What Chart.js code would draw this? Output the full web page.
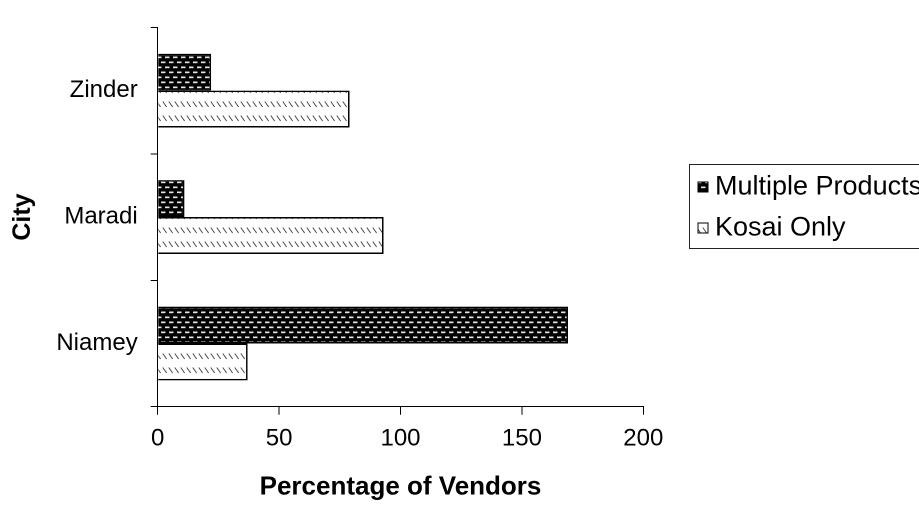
<!DOCTYPE html>
<html>
<head>
<meta charset="utf-8">
<script src="https://cdn.jsdelivr.net/npm/chart.js@4"></script>
<style>
  html, body { margin: 0; padding: 0; background: #fff; overflow: hidden; width: 919px; height: 506px; }
  #frame { position: absolute; left: 0; top: 0; width: 919px; height: 506px; }
</style>
</head>
<body>
<div id="frame"><canvas id="chart"></canvas></div>
<script>
// Share of vendors by city
const cities = ['Zinder', 'Maradi', 'Niamey'];
const multipleProducts = [22, 11, 169];
const kosaiOnly = [79, 93, 37];
const seriesNames = ['Multiple Products', 'Kosai Only'];
const percentTicks = [0, 50, 100, 150, 200];

const FONT = '"Liberation Sans", Arial, sans-serif';
const RES = 2; // tiles are drawn at 2x and scaled back down

function makePattern(w, h, paint) {
  const c = document.createElement('canvas');
  c.width = Math.round(w * RES);
  c.height = Math.round(h * RES);
  const g = c.getContext('2d');
  g.scale(RES, RES);
  paint(g);
  const p = c.getContext('2d').createPattern(c, 'repeat');
  p.setTransform(new DOMMatrix().scale(1 / RES));
  return p;
}

// dark fill with offset rows of light dashes
const brickPattern = makePattern(8, 10, g => {
  g.fillStyle = '#000';
  g.fillRect(0, 0, 8, 10);
  g.fillStyle = '#e4e4e4';
  g.fillRect(1, 1.5, 4.5, 1.7);
  g.fillRect(5, 6.5, 4.5, 1.7);
  g.fillRect(-3, 6.5, 4.5, 1.7);
});

// white fill with rows of short backslash strokes
const hatchPattern = makePattern(6, 14, g => {
  g.fillStyle = '#fff';
  g.fillRect(0, 0, 6, 14);
  g.strokeStyle = '#4a4a4a';
  g.lineWidth = 1;
  g.beginPath();
  g.moveTo(0.8, 3.5);
  g.lineTo(4.6, 9);
  g.stroke();
});

const boxedLegend = {
  id: 'boxedLegend',
  afterDraw(chart) {
    const ctx = chart.ctx;
    const x0 = 689.5, y0 = 164.5, h = 84;
    ctx.save();
    ctx.strokeStyle = '#222';
    ctx.lineWidth = 1;
    ctx.strokeRect(x0, y0, 260, h);
    const rows = [187, 228];
    chart.data.datasets.forEach((ds, i) => {
      const y = rows[i];
      ctx.fillStyle = ds.backgroundColor;
      ctx.fillRect(698, y - 5, 10, 10);
      ctx.strokeStyle = '#000';
      ctx.lineWidth = 1;
      ctx.strokeRect(698, y - 5, 10, 10);
      ctx.fillStyle = '#000';
      ctx.font = '27px ' + FONT;
      ctx.textBaseline = 'middle';
      ctx.textAlign = 'left';
      ctx.fillText(ds.label, 715, y);
    });
    ctx.restore();
  }
};

new Chart(document.getElementById('chart'), {
  type: 'bar',
  data: {
    labels: cities,
    datasets: [
      { label: seriesNames[0], data: multipleProducts, backgroundColor: brickPattern,
        borderColor: '#000', borderWidth: 1.5 },
      { label: seriesNames[1], data: kosaiOnly, backgroundColor: hatchPattern,
        borderColor: '#000', borderWidth: 1.5 }
    ]
  },
  options: {
    indexAxis: 'y',
    responsive: true,
    maintainAspectRatio: false,
    animation: false,
    devicePixelRatio: 2,
    categoryPercentage: 0.584,
    barPercentage: 1,
    layout: { padding: { left: 0, top: 8, right: 275.7, bottom: 0 } },
    plugins: { legend: { display: false }, tooltip: { enabled: false } },
    scales: {
      x: {
        type: 'linear',
        min: 0,
        max: 200,
        afterBuildTicks: s => { s.ticks = percentTicks.map(v => ({ value: v })); },
        afterFit: s => { s.height = 99.3; },
        ticks: { color: '#000', font: { family: FONT, size: 24 }, padding: 10 },
        grid: { drawOnChartArea: false, drawTicks: true, tickLength: 8, color: '#000', lineWidth: 1 },
        border: { display: true, color: '#000', width: 1 },
        title: { display: true, text: 'Percentage of Vendors', color: '#000',
                 font: { family: FONT, size: 26, weight: 'bold' }, padding: { top: 4, bottom: 3 } }
      },
      y: {
        type: 'category',
        afterFit: s => { s.width = 157.7; },
        ticks: { color: '#000', font: { family: FONT, size: 24 }, padding: 13 },
        grid: { offset: true, drawOnChartArea: false, drawTicks: true, tickLength: 7, color: '#000', lineWidth: 1 },
        border: { display: true, color: '#000', width: 1 },
        title: { display: true, text: 'City', color: '#000',
                 font: { family: FONT, size: 25, weight: 'bold' }, padding: { top: 8, bottom: 0 } }
      }
    }
  },
  plugins: [boxedLegend]
});
</script>
</body>
</html>
